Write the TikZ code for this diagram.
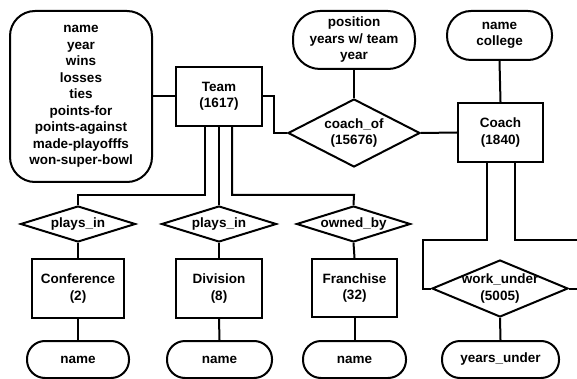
\documentclass[tikz,border=0pt]{standalone}
\usepackage{fontspec}
\setmainfont{Liberation Sans}
\usetikzlibrary{shapes.geometric}
\tikzset{
  base/.style={draw, line width=2pt, inner sep=0pt, align=center,
    font=\bfseries\fontsize{13.5}{16.5}\selectfont},
  ent/.style={base, rectangle},
  rel/.style={base, diamond},
  attr/.style={base, rectangle},
  conn/.style={line width=2pt},
  lbl/.style={font=\bfseries\fontsize{13.5}{16.5}\selectfont, align=center}
}
\begin{document}
\begin{tikzpicture}[x=1pt,y=-1pt]
\clip (0,0) rectangle (577,379);
\fill[white] (0,0) rectangle (577,379);
% entities
\node[ent, minimum width=86, minimum height=59] (team) at (219,96.5) {Team\\(1617)};
\node[ent, minimum width=85, minimum height=59] (coach) at (500.5,132.5) {Coach\\(1840)};
\node[ent, minimum width=92, minimum height=59] (conf) at (78,288.5) {Conference\\(2)};
\node[ent, minimum width=86, minimum height=59] (div) at (219,288.5) {Division\\(8)};
\node[ent, minimum width=85, minimum height=58] (fr) at (354.5,288) {Franchise\\(32)};
% attributes
\node[attr, rounded corners=25pt, minimum width=142, minimum height=171] (tattr) at (81,96.5)
  {name\\year\\wins\\losses\\ties\\points-for\\points-against\\made-playofffs\\won-super-bowl};
\node[attr, rounded corners=27pt, minimum width=122, minimum height=58] (pos) at (354,40)
  {position\\years w/ team\\year};
\node[attr, rounded corners=24pt, minimum width=105, minimum height=49] (nc) at (499.5,35.5)
  {name\\college};
\node[attr, rounded corners=18pt, minimum width=102, minimum height=37] (n1) at (78,359.5) {name};
\node[attr, rounded corners=18pt, minimum width=105, minimum height=37] (n2) at (219.5,359.5) {name};
\node[attr, rounded corners=18pt, minimum width=103, minimum height=37] (n3) at (354.5,359.5) {name};
\node[attr, rounded corners=18pt, minimum width=117, minimum height=37] (yu) at (500.5,359.5) {years\_under};
% relationships
\node[rel, minimum width=132, minimum height=68, label={[lbl]center:coach\_of\\(15676)}] (co) at (354,133) {};
\node[rel, minimum width=115, minimum height=36, label={[lbl]center:plays\_in}] (pi1) at (78,224) {};
\node[rel, minimum width=115, minimum height=36, label={[lbl]center:plays\_in}] (pi2) at (219,224) {};
\node[rel, minimum width=114, minimum height=36, label={[lbl]center:owned\_by}] (ob) at (353.5,224) {};
\node[rel, minimum width=136, minimum height=57, label={[lbl]center:work\_under\\(5005)}] (wu) at (500,288.5) {};
% junction coordinates
\coordinate (j1) at (78,195);
\coordinate (j3) at (354,195);
\coordinate (t1) at (274,96.5);
\coordinate (k1) at (423,240);
\coordinate (k2) at (600,240);
% connectors
\draw[conn] (tattr.east) -- (team.west);
\draw[conn] (team.east) -- (t1) |- (co.west);
\draw[conn] (pos.south) -- (co.north);
\draw[conn] (co.east) -- (coach.west);
\draw[conn] (nc.south) -- (coach.north);
\draw[conn] ([xshift=-14pt]team.south) |- (j1) -- (pi1.north);
\draw[conn] (team.south) -- (pi2.north);
\draw[conn] ([xshift=13pt]team.south) |- (j3) -- (ob.north);
\draw[conn] (pi1.south) -- (conf.north);
\draw[conn] (pi2.south) -- (div.north);
\draw[conn] (ob.south) -- (fr.north);
\draw[conn] (conf.south) -- (n1.north);
\draw[conn] (div.south) -- (n2.north);
\draw[conn] (fr.south) -- (n3.north);
\draw[conn] ([xshift=-14pt]coach.south) |- (k1) |- (wu.west);
\draw[conn] ([xshift=14pt]coach.south) |- (k2) |- (wu.east);
\draw[conn] (wu.south) -- (yu.north);
\end{tikzpicture}
\end{document}
